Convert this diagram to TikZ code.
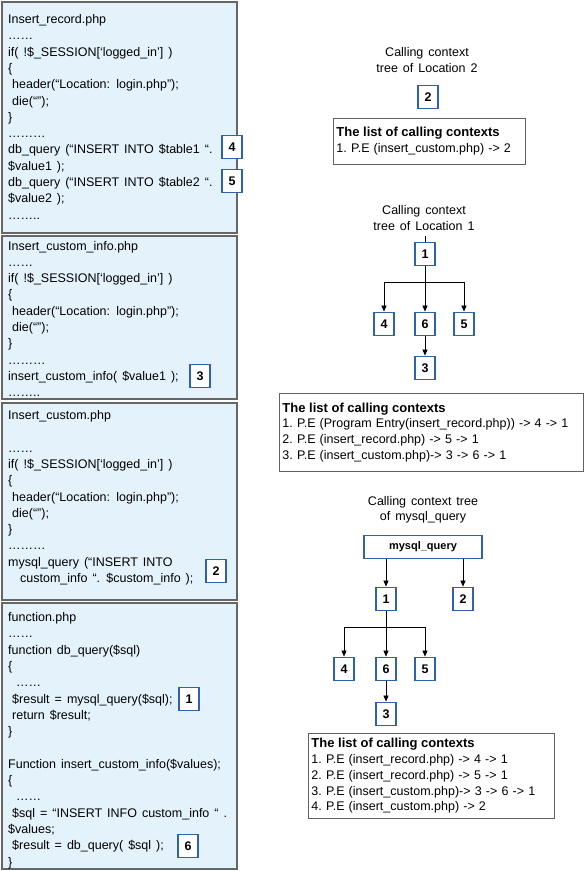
\documentclass[tikz,border=0pt]{standalone}
\usepackage{fontspec}
\setmainfont{Liberation Sans}
\usetikzlibrary{arrows.meta}
\definecolor{panelfill}{HTML}{E4F3FB}
\definecolor{panelline}{HTML}{666666}
\definecolor{numblue}{HTML}{2F62A8}
\definecolor{listline}{HTML}{606060}
\newcommand{\mycodefont}{\fontsize{12.5}{14}\selectfont\spaceskip=5pt plus 1pt\relax}
\newcommand{\myttlfont}{\fontsize{12.5}{15.5}\selectfont\spaceskip=5pt plus 1pt\relax}
\newcommand{\mylistfont}{\fontsize{12.5}{15.8}\selectfont\frenchspacing\spaceskip=5pt plus 1pt\relax}
\newcommand{\listhead}{{\spaceskip=0pt\fontsize{13}{15.8}\selectfont\bfseries The list of calling contexts}}
\tikzset{
  panel/.style={draw=panelline, fill=panelfill, line width=1.2pt},
  code/.style={anchor=base west, inner sep=0pt, font=\mycodefont},
  numbox/.style={draw=numblue, line width=1.8pt, fill=white, minimum width=20pt, minimum height=23pt, inner sep=0pt, font=\bfseries\fontsize{12.5}{14}\selectfont},
  ttl/.style={align=center, inner sep=0pt, font=\myttlfont},
  listbox/.style={draw=listline, line width=0.9pt, fill=white, align=left, anchor=north west, inner xsep=3pt, inner ysep=2pt, font=\mylistfont},
  arr/.style={-{Triangle[length=6pt,width=5pt]}, line width=0.7pt},
}
\begin{document}
\begin{tikzpicture}[x=1pt,y=-1pt]
\useasboundingbox[fill=white] (0,0) rectangle (584,871);

% ---------- left panels ----------
\path[panel] (2,2) rectangle (237,233);
\path[panel] (2,236) rectangle (237,399);
\path[panel] (2,403) rectangle (237,600);
\path[panel] (2,603) rectangle (237,869);

\foreach \cl [count=\i] in {
  {Insert\_record.php},
  {……},
  {if( !\$\_SESSION[‘logged\_in’] )},
  {\{},
  {\hspace{4pt}header(“Location: login.php”);},
  {\hspace{4pt}die(“”);},
  {\}},
  {………},
  {db\_query (“INSERT INTO \$table1 “.},
  {\$value1 );},
  {db\_query (“INSERT INTO \$table2 “.},
  {\$value2 );},
  {……..}}
  \node[code] (pa\i) at (8,{23.5+16.3*(\i-1)}) {\cl};

\foreach \cl [count=\i] in {
  {Insert\_custom\_info.php},
  {……},
  {if( !\$\_SESSION[‘logged\_in’] )},
  {\{},
  {\hspace{4pt}header(“Location: login.php”);},
  {\hspace{4pt}die(“”);},
  {\}},
  {………},
  {insert\_custom\_info( \$value1 );},
  {……..}}
  \node[code] (pb\i) at (8,{250+16.3*(\i-1)}) {\cl};

\foreach \cl [count=\i] in {
  {Insert\_custom.php},
  {},
  {……},
  {if( !\$\_SESSION[‘logged\_in’] )},
  {\{},
  {\hspace{4pt}header(“Location: login.php”);},
  {\hspace{4pt}die(“”);},
  {\}},
  {………},
  {mysql\_query (“INSERT INTO},
  {\hspace{12pt}custom\_info “. \$custom\_info );}}
  \node[code] (pc\i) at (8,{419.5+16.3*(\i-1)}) {\cl};

\foreach \cl [count=\i] in {
  {function.php},
  {……},
  {function db\_query(\$sql)},
  {\{},
  {\hspace{8pt}……},
  {\hspace{4pt}\$result = mysql\_query(\$sql);},
  {\hspace{4pt}return \$result;},
  {\}},
  {},
  {Function insert\_custom\_info(\$values);},
  {\{},
  {\hspace{8pt}……},
  {\hspace{4pt}\$sql = “INSERT INFO custom\_info “ .},
  {\$values;},
  {\hspace{4pt}\$result = db\_query( \$sql );},
  {\}}}
  \node[code] (pd\i) at (8,{621.5+16.3*(\i-1)}) {\cl};

\node[numbox] (k4) at (232,147) {4};
\node[numbox] (k5) at (232,181) {5};
\node[numbox] (k3) at (200,376) {3};
\node[numbox] (k2) at (216,571) {2};
\node[numbox] (k1) at (189,699) {1};
\node[numbox] (k6) at (188,846) {6};

% ---------- tree of location 2 ----------
\node[ttl] (tt2) at (427,60) {Calling context\\tree of Location 2};
\node[numbox] (r2) at (428,97) {2};
\node[listbox, text width=186pt, minimum height=46pt] (L1) at (333,118)
  {\listhead\\1. P.E (insert\_custom.php) -> 2};

% ---------- tree of location 1 ----------
\node[ttl] (tt1) at (424,218) {Calling context\\tree of Location 1};
\node[numbox] (a1) at (425,254) {1};
\node[numbox] (a4) at (384,324) {4};
\node[numbox] (a6) at (425,324) {6};
\node[numbox] (a5) at (464,324) {5};
\node[numbox] (a3) at (425,368) {3};
\coordinate (a1top) at (425,236);
\coordinate (aj) at (425,282);
\draw[line width=0.7pt] (a1top) -- (a1.north);
\draw[arr] (a1) -- (a6);
\draw[arr] (aj) -| (a4.north);
\draw[arr] (aj) -| (a5.north);
\draw[arr] (a6) -- (a3);
\node[listbox, text width=298pt, minimum height=78pt] (L2) at (279,393)
  {\listhead\\
   1. P.E (Program Entry(insert\_record.php)) -> 4 -> 1\\
   2. P.E (insert\_record.php) -> 5 -> 1\\
   3. P.E (insert\_custom.php)-> 3 -> 6 -> 1};

% ---------- tree of mysql_query ----------
\node[ttl] (tt3) at (423,510) {Calling context tree\\of mysql\_query};
\node[numbox, minimum width=118pt, font=\bfseries\fontsize{11}{12}\selectfont] (mq) at (423,547) {mysql\_query};
\node[numbox] (b1) at (386,599) {1};
\node[numbox] (b2) at (463,599) {2};
\node[numbox] (b4) at (344,669) {4};
\node[numbox] (b6) at (386,669) {6};
\node[numbox] (b5) at (425,669) {5};
\node[numbox] (b3) at (386,714) {3};
\coordinate (bj) at (386,627);
\draw[arr] (mq.south -| b1) -- (b1);
\draw[arr] (mq.south -| b2) -- (b2);
\draw[arr] (b1) -- (b6);
\draw[arr] (bj) -| (b4.north);
\draw[arr] (bj) -| (b5.north);
\draw[arr] (b6) -- (b3);
\node[listbox, text width=240pt, minimum height=85pt] (L3) at (308,733)
  {\listhead\\
   1. P.E (insert\_record.php) -> 4 -> 1\\
   2. P.E (insert\_record.php) -> 5 -> 1\\
   3. P.E (insert\_custom.php)-> 3 -> 6 -> 1\\
   4. P.E (insert\_custom.php) -> 2};
\end{tikzpicture}
\end{document}
